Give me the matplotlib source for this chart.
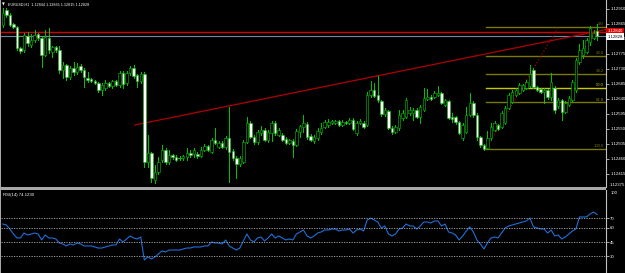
import matplotlib
matplotlib.use('Agg')
import matplotlib.pyplot as plt
from matplotlib.patches import Rectangle
import matplotlib.transforms as mtransforms
import numpy as np

# EURUSD H1 bars
opens = [1.12861, 1.12906, 1.12891, 1.12864, 1.12855, 1.12792, 1.12786, 1.12828, 1.12801, 1.12816,
         1.12834, 1.12822, 1.12771, 1.12822, 1.12780, 1.12795, 1.12786, 1.12726, 1.12741, 1.12705,
         1.12732, 1.12720, 1.12738, 1.12726, 1.12702, 1.12699, 1.12693, 1.12687, 1.12666, 1.12672,
         1.12687, 1.12678, 1.12693, 1.12681, 1.12717, 1.12687, 1.12717, 1.12732, 1.12711, 1.12693,
         1.12714, 1.12450, 1.12477, 1.12396, 1.12420, 1.12456, 1.12486, 1.12450, 1.12471, 1.12465,
         1.12462, 1.12462, 1.12465, 1.12477, 1.12474, 1.12474, 1.12468, 1.12486, 1.12498, 1.12480,
         1.12516, 1.12495, 1.12507, 1.12495, 1.12522, 1.12483, 1.12462, 1.12444, 1.12450, 1.12510,
         1.12567, 1.12525, 1.12510, 1.12537, 1.12546, 1.12516, 1.12537, 1.12567, 1.12531, 1.12531,
         1.12519, 1.12507, 1.12513, 1.12501, 1.12540, 1.12555, 1.12564, 1.12528, 1.12513, 1.12522,
         1.12540, 1.12555, 1.12561, 1.12567, 1.12567, 1.12573, 1.12561, 1.12570, 1.12567, 1.12576,
         1.12537, 1.12567, 1.12567, 1.12561, 1.12651, 1.12666, 1.12651, 1.12633, 1.12594, 1.12603,
         1.12552, 1.12540, 1.12552, 1.12582, 1.12585, 1.12597, 1.12597, 1.12606, 1.12585, 1.12606,
         1.12639, 1.12645, 1.12645, 1.12651, 1.12657, 1.12621, 1.12633, 1.12585, 1.12585, 1.12570,
         1.12522, 1.12540, 1.12591, 1.12627, 1.12591, 1.12525, 1.12501, 1.12492, 1.12522, 1.12546,
         1.12561, 1.12555, 1.12567, 1.12612, 1.12630, 1.12651, 1.12657, 1.12666, 1.12672, 1.12678,
         1.12726, 1.12675, 1.12669, 1.12660, 1.12666, 1.12645, 1.12672, 1.12618, 1.12636, 1.12600,
         1.12621, 1.12636, 1.12666, 1.12750, 1.12771, 1.12780, 1.12810, 1.12822, 1.12844]
highs = [1.12912, 1.12912, 1.12897, 1.12867, 1.12858, 1.12795, 1.12837, 1.12840, 1.12834, 1.12846,
         1.12837, 1.12828, 1.12846, 1.12852, 1.12798, 1.12798, 1.12798, 1.12750, 1.12744, 1.12738,
         1.12750, 1.12747, 1.12744, 1.12732, 1.12720, 1.12702, 1.12696, 1.12690, 1.12687, 1.12696,
         1.12690, 1.12696, 1.12696, 1.12723, 1.12723, 1.12723, 1.12738, 1.12741, 1.12714, 1.12720,
         1.12720, 1.12531, 1.12480, 1.12441, 1.12465, 1.12501, 1.12492, 1.12486, 1.12474, 1.12471,
         1.12468, 1.12471, 1.12492, 1.12486, 1.12492, 1.12480, 1.12495, 1.12504, 1.12501, 1.12522,
         1.12552, 1.12513, 1.12513, 1.12528, 1.12615, 1.12489, 1.12468, 1.12468, 1.12516, 1.12585,
         1.12573, 1.12531, 1.12546, 1.12558, 1.12552, 1.12546, 1.12573, 1.12573, 1.12552, 1.12537,
         1.12525, 1.12519, 1.12519, 1.12549, 1.12561, 1.12591, 1.12570, 1.12534, 1.12531, 1.12552,
         1.12567, 1.12576, 1.12579, 1.12576, 1.12576, 1.12576, 1.12576, 1.12573, 1.12582, 1.12582,
         1.12573, 1.12579, 1.12573, 1.12660, 1.12693, 1.12687, 1.12708, 1.12636, 1.12612, 1.12606,
         1.12558, 1.12561, 1.12606, 1.12606, 1.12642, 1.12615, 1.12612, 1.12612, 1.12621, 1.12672,
         1.12669, 1.12651, 1.12663, 1.12678, 1.12660, 1.12639, 1.12636, 1.12597, 1.12588, 1.12573,
         1.12567, 1.12615, 1.12657, 1.12633, 1.12597, 1.12528, 1.12504, 1.12543, 1.12567, 1.12573,
         1.12564, 1.12603, 1.12618, 1.12657, 1.12666, 1.12672, 1.12687, 1.12684, 1.12696, 1.12741,
         1.12732, 1.12678, 1.12672, 1.12672, 1.12669, 1.12717, 1.12678, 1.12642, 1.12639, 1.12633,
         1.12648, 1.12696, 1.12762, 1.12804, 1.12816, 1.12822, 1.12858, 1.12846, 1.12865]
lows = [1.12855, 1.12885, 1.12858, 1.12852, 1.12786, 1.12777, 1.12780, 1.12798, 1.12795, 1.12810,
        1.12816, 1.12735, 1.12768, 1.12777, 1.12765, 1.12780, 1.12717, 1.12702, 1.12696, 1.12699,
        1.12711, 1.12714, 1.12720, 1.12675, 1.12690, 1.12690, 1.12684, 1.12660, 1.12651, 1.12666,
        1.12675, 1.12672, 1.12678, 1.12675, 1.12672, 1.12681, 1.12711, 1.12702, 1.12675, 1.12687,
        1.12435, 1.12435, 1.12390, 1.12387, 1.12414, 1.12450, 1.12444, 1.12444, 1.12459, 1.12453,
        1.12456, 1.12456, 1.12456, 1.12465, 1.12465, 1.12462, 1.12465, 1.12483, 1.12483, 1.12477,
        1.12504, 1.12492, 1.12492, 1.12489, 1.12390, 1.12456, 1.12402, 1.12438, 1.12447, 1.12507,
        1.12522, 1.12504, 1.12504, 1.12531, 1.12513, 1.12510, 1.12513, 1.12531, 1.12528, 1.12513,
        1.12504, 1.12504, 1.12465, 1.12498, 1.12525, 1.12540, 1.12519, 1.12513, 1.12507, 1.12516,
        1.12534, 1.12552, 1.12555, 1.12564, 1.12564, 1.12558, 1.12558, 1.12564, 1.12564, 1.12546,
        1.12531, 1.12564, 1.12552, 1.12558, 1.12645, 1.12645, 1.12630, 1.12588, 1.12588, 1.12549,
        1.12534, 1.12537, 1.12546, 1.12576, 1.12582, 1.12591, 1.12576, 1.12582, 1.12567, 1.12603,
        1.12636, 1.12636, 1.12642, 1.12648, 1.12624, 1.12618, 1.12579, 1.12570, 1.12564, 1.12534,
        1.12516, 1.12537, 1.12588, 1.12585, 1.12516, 1.12495, 1.12486, 1.12489, 1.12516, 1.12543,
        1.12546, 1.12552, 1.12564, 1.12609, 1.12627, 1.12648, 1.12654, 1.12663, 1.12669, 1.12675,
        1.12672, 1.12663, 1.12657, 1.12627, 1.12639, 1.12636, 1.12597, 1.12612, 1.12576, 1.12597,
        1.12618, 1.12633, 1.12660, 1.12744, 1.12762, 1.12777, 1.12801, 1.12819, 1.12815]
closes = [1.12897, 1.12891, 1.12861, 1.12855, 1.12792, 1.12783, 1.12831, 1.12807, 1.12816, 1.12831,
          1.12822, 1.12771, 1.12825, 1.12786, 1.12795, 1.12786, 1.12726, 1.12741, 1.12705, 1.12732,
          1.12720, 1.12735, 1.12726, 1.12705, 1.12696, 1.12693, 1.12687, 1.12666, 1.12681, 1.12687,
          1.12678, 1.12693, 1.12681, 1.12717, 1.12684, 1.12717, 1.12732, 1.12708, 1.12693, 1.12714,
          1.12450, 1.12477, 1.12402, 1.12420, 1.12450, 1.12486, 1.12450, 1.12471, 1.12465, 1.12456,
          1.12461, 1.12468, 1.12477, 1.12471, 1.12486, 1.12468, 1.12486, 1.12498, 1.12486, 1.12516,
          1.12507, 1.12507, 1.12495, 1.12522, 1.12480, 1.12462, 1.12444, 1.12462, 1.12510, 1.12567,
          1.12525, 1.12510, 1.12540, 1.12546, 1.12516, 1.12540, 1.12567, 1.12537, 1.12546, 1.12516,
          1.12507, 1.12516, 1.12501, 1.12543, 1.12558, 1.12567, 1.12525, 1.12516, 1.12525, 1.12543,
          1.12552, 1.12570, 1.12570, 1.12573, 1.12573, 1.12561, 1.12570, 1.12567, 1.12576, 1.12549,
          1.12567, 1.12573, 1.12555, 1.12651, 1.12666, 1.12648, 1.12636, 1.12594, 1.12606, 1.12552,
          1.12540, 1.12555, 1.12591, 1.12597, 1.12636, 1.12606, 1.12606, 1.12585, 1.12615, 1.12642,
          1.12645, 1.12639, 1.12657, 1.12657, 1.12627, 1.12636, 1.12582, 1.12579, 1.12570, 1.12537,
          1.12561, 1.12591, 1.12627, 1.12591, 1.12525, 1.12501, 1.12489, 1.12522, 1.12555, 1.12567,
          1.12549, 1.12597, 1.12612, 1.12651, 1.12660, 1.12666, 1.12681, 1.12681, 1.12690, 1.12714,
          1.12675, 1.12666, 1.12660, 1.12666, 1.12645, 1.12690, 1.12606, 1.12636, 1.12600, 1.12627,
          1.12642, 1.12690, 1.12756, 1.12786, 1.12792, 1.12816, 1.12852, 1.12837, 1.12828]

# RSI(14) per bar
rsi = [64.2, 63.2, 58.9, 53.7, 49.5, 49.5, 54.7, 52.6, 53.7, 54.7,
       53.7, 47.4, 52.6, 49.5, 49.5, 48.4, 44.2, 43.2, 41.1, 43.2,
       42.1, 44.2, 43.2, 41.1, 41.1, 41.1, 40.0, 38.9, 38.9, 40.0,
       41.1, 42.1, 42.1, 48.4, 45.3, 48.4, 51.6, 49.5, 48.4, 50.5,
       26.3, 29.5, 27.4, 29.5, 32.6, 35.8, 34.7, 36.8, 36.8, 36.8,
       36.8, 37.9, 38.9, 38.9, 40.0, 40.0, 40.0, 41.1, 41.1, 45.3,
       44.2, 44.2, 43.2, 47.4, 41.1, 38.9, 36.8, 38.9, 46.3, 53.7,
       47.4, 45.3, 49.5, 50.5, 46.3, 49.5, 53.7, 49.5, 51.6, 49.5,
       47.4, 48.4, 47.4, 53.7, 55.8, 57.9, 51.6, 49.5, 51.6, 54.7,
       55.8, 57.9, 57.9, 58.9, 58.9, 56.8, 57.9, 57.9, 58.9, 54.7,
       57.9, 58.9, 56.8, 68.4, 70.5, 68.4, 66.3, 60.0, 62.1, 53.7,
       51.6, 53.7, 58.9, 60.0, 64.2, 62.1, 62.1, 58.9, 62.1, 66.3,
       66.3, 65.3, 67.4, 67.4, 62.1, 64.2, 55.8, 54.7, 52.6, 47.4,
       51.6, 56.8, 61.1, 55.8, 47.4, 43.2, 37.9, 44.2, 49.5, 50.5,
       49.5, 54.7, 60.0, 62.1, 63.2, 64.2, 65.3, 66.3, 67.4, 70.5,
       61.1, 60.0, 58.9, 58.9, 54.7, 57.9, 51.6, 52.6, 48.4, 50.5,
       53.7, 56.8, 58.9, 71.6, 71.6, 71.6, 74.7, 76.8, 74.1]

rsi_levels = [70, 60, 45, 30]
price_ticks = [1.12910, 1.12865, 1.12820, 1.12775, 1.12730, 1.12685, 1.12640,
               1.12595, 1.12550, 1.12505, 1.12460, 1.12415]

# drawn objects
hline_price = 1.12840
trend_x = [38.3, 136.0]
trend_p = [1.12561, 1.12771]
fib_x = [137.5, 158.0]
fib_p = [1.12489, 1.12855]
fib_levels = [0.0, 23.6, 38.2, 50.0, 61.8, 100.0]

W, H = 625, 273
green = '#00c800'
small = dict(family=['Liberation Sans', 'DejaVu Sans'], fontsize=3.1)

fig = plt.figure(figsize=(W / 100, H / 100), dpi=100, facecolor='black')
ax = fig.add_axes([1 / W, 1 - 187 / H, 605 / W, 187 / H], facecolor='black')
rs = fig.add_axes([1 / W, 0, 605 / W, 83 / H], facecolor='black')

n = len(closes)
x = np.arange(1, n + 1)
xmax = 171.5

# candles
for i in range(n):
    o, h, l, c = opens[i], highs[i], lows[i], closes[i]
    ax.plot([x[i], x[i]], [l, h], color=green, lw=0.7, zorder=3)
    bottom = min(o, c)
    height = abs(c - o)
    face = 'black' if c > o else 'white'
    if height < 0.000015:
        ax.plot([x[i] - 0.35, x[i] + 0.35], [o, o], color=green, lw=0.7, zorder=4)
    else:
        ax.add_patch(Rectangle((x[i] - 0.35, bottom), 0.7, height, facecolor=face,
                               edgecolor=green, lw=0.4, zorder=4))

# horizontal line and bid line
ax.axhline(hline_price, color='#d00000', lw=1.0, zorder=2)
ax.axhline(closes[-1], color='#778899', lw=0.8, zorder=2)

# trendline (ray)
slope = (trend_p[1] - trend_p[0]) / (trend_x[1] - trend_x[0])
ax.plot([trend_x[0], xmax], [trend_p[0], trend_p[0] + slope * (xmax - trend_x[0])],
        color='#b00000', lw=0.9, zorder=2)

# fibonacci retracement
hi, lo = fib_p[1], fib_p[0]
for lev in fib_levels:
    p = hi - (hi - lo) * lev / 100
    col = '#c8c800' if lev == 50.0 else '#7a7a00'
    ax.plot([fib_x[0], xmax], [p, p], color=col, lw=1.0, zorder=1)
    ax.text(xmax - 0.6, p + 0.00002, '%.1f' % lev, color=col, ha='right', va='bottom',
            zorder=5, **small)
ax.plot(fib_x, fib_p, color='#c00000', lw=0.8, ls=(0, (1, 2)), zorder=2)

ax.set_xlim(0.5, xmax)
ax.set_ylim(1.12375, 1.12936)
ax.set_xticks([])
ax.yaxis.tick_right()
ax.set_yticks(price_ticks)
ax.set_yticklabels(['%.5f' % t for t in price_ticks], **small)
ax.tick_params(axis='y', colors='#c0c0c0', labelcolor='white', length=2, width=0.6, pad=1)
for s in ['top', 'bottom', 'left']:
    ax.spines[s].set_visible(False)
ax.spines['right'].set_color('#c0c0c0')
ax.spines['right'].set_linewidth(0.8)

trans = mtransforms.blended_transform_factory(ax.transAxes, ax.transData)
ax.text(1.002, hline_price + 0.00003, '%.5f' % hline_price, transform=trans, color='white',
        ha='left', va='center', bbox=dict(boxstyle='square,pad=0.3', fc='#e00000', ec='none'),
        **small)
ax.text(1.002, closes[-1] - 0.00002, '%.5f' % closes[-1], transform=trans, color='black',
        ha='left', va='center', bbox=dict(boxstyle='square,pad=0.3', fc='white', ec='none'),
        **small)
ax.text(1.0055, 1.12380, '1.12375', transform=trans, color='white', ha='left', va='center',
        **small)

# RSI panel
rs.plot(x, rsi, color='#1f6fd8', lw=0.8)
for lv in rsi_levels:
    rs.axhline(lv, color='#b0b0b0', lw=0.6, ls=(0, (1.5, 1.5)))
rs.set_xlim(0.5, xmax)
rs.set_ylim(12.6, 100)
rs.set_xticks([])
rs.yaxis.tick_right()
rs.set_yticks(rsi_levels)
rs.set_yticklabels([str(v) for v in rsi_levels], **small)
rs.tick_params(axis='y', colors='#c0c0c0', labelcolor='white', length=2, width=0.6, pad=1)
for s in ['top', 'bottom', 'left']:
    rs.spines[s].set_visible(False)
rs.spines['right'].set_color('#c0c0c0')
rs.spines['right'].set_linewidth(0.8)
rs.text(1.0075, 0.985, '100', transform=rs.transAxes, color='white', ha='left', va='top',
        **small)
rs.text(0.004, 0.96, 'RSI(14) 74.1230', transform=rs.transAxes, color='white',
        ha='left', va='top', **small)

# frame pieces
fig.patches.append(Rectangle((0, 1 - 190 / H), 606 / W, 3 / H, transform=fig.transFigure,
                             facecolor='#a8a8a8', edgecolor='none'))
fig.patches.append(Rectangle((0, 0), 1.2 / W, 1, transform=fig.transFigure,
                             facecolor='#a8a8a8', edgecolor='none'))

fig.text(2 / W, 1 - 5 / H, '\u25BC', color='white', fontsize=2.6, va='center')
fig.text(8 / W, 1 - 5 / H, 'EURUSD,H1  1.12844 1.12865 1.12815 1.12828', color='white',
         va='center', family=['Liberation Sans', 'DejaVu Sans'], fontsize=2.7)

fig.savefig('out.png', dpi=100, facecolor='black')
